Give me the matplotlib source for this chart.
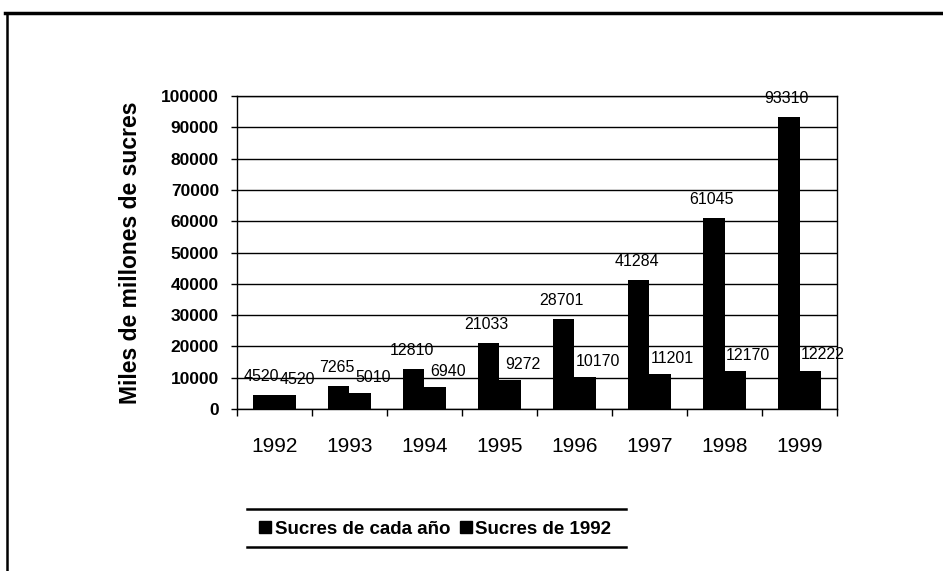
import numpy as np
import matplotlib
matplotlib.use("Agg")
import matplotlib.pyplot as plt
from matplotlib.lines import Line2D

years = ["1992", "1993", "1994", "1995", "1996", "1997", "1998", "1999"]
sucres_cada_anio = [4520, 7265, 12810, 21033, 28701, 41284, 61045, 93310]
sucres_1992 = [4520, 5010, 6940, 9272, 10170, 11201, 12170, 12222]
series_names = ["Sucres de cada año", "Sucres de 1992"]


def main():
    plt.rcParams["font.family"] = ["Liberation Sans", "DejaVu Sans"]

    fig = plt.figure(figsize=(9.43, 5.71), dpi=100)
    ax = fig.add_axes([0.2513, 0.2837, 0.6363, 0.548])

    x = np.arange(len(years)) + 0.5
    w = 0.287
    b1 = ax.bar(x - w / 2, sucres_cada_anio, w, color="black", linewidth=0, zorder=3)
    b2 = ax.bar(x + w / 2, sucres_1992, w, color="black", linewidth=0, zorder=3)

    # second series labels sit to the right and partly behind the taller bar
    for bars, vals, dx, dy in ((b1, sucres_cada_anio, -1.5, 8), (b2, sucres_1992, 9, 6)):
        for rect, v in zip(bars, vals):
            ax.annotate(str(v), (rect.get_x() + rect.get_width() / 2, v),
                        xytext=(dx, dy), textcoords="offset points",
                        ha="center", va="bottom", fontsize=11.5, zorder=2)

    ax.set_xlim(0, len(years))
    ax.set_ylim(0, 100000)
    ax.set_yticks(np.arange(0, 100001, 10000))
    ax.set_yticklabels([str(v) for v in range(0, 100001, 10000)],
                       fontsize=12.5, fontweight="bold")
    ax.tick_params(axis="y", direction="out", length=4, width=1, pad=9)

    ax.set_xticks(x)
    ax.set_xticklabels(years, fontsize=15)
    ax.tick_params(axis="x", length=0, pad=20)
    ax.set_xticks(np.arange(0, len(years) + 1), minor=True)
    ax.tick_params(axis="x", which="minor", direction="out", length=5, width=1)

    ax.grid(axis="y", color="black", linewidth=1, zorder=0)
    for s in ax.spines.values():
        s.set_color("black")
        s.set_linewidth(1)

    ax.set_ylabel("Miles de millones de sucres", fontsize=16.5, fontweight="bold",
                  labelpad=14)

    handles = [Line2D([], [], marker="s", color="black", linestyle="none",
                      markersize=8) for _ in series_names]
    fig.legend(handles, series_names, loc="center",
               bbox_to_anchor=(435 / 943, 1 - 529 / 571), ncol=2, frameon=False,
               handletextpad=0.15, columnspacing=0.5, handlelength=0.7,
               prop={"size": 13.5, "weight": "bold"})

    # lines above and below the legend
    for yy in (509, 547):
        fig.add_artist(Line2D([247 / 943, 626 / 943], [1 - yy / 571] * 2,
                              color="black", linewidth=1.8))

    # page frame (top and left)
    fig.add_artist(Line2D([5 / 943, 1], [1 - 13 / 571] * 2, color="black", linewidth=2.5))
    fig.add_artist(Line2D([7 / 943, 7 / 943], [1 - 13 / 571, 0], color="black", linewidth=1.8))

    fig.savefig("out.png", dpi=100)


if __name__ == "__main__":
    main()
